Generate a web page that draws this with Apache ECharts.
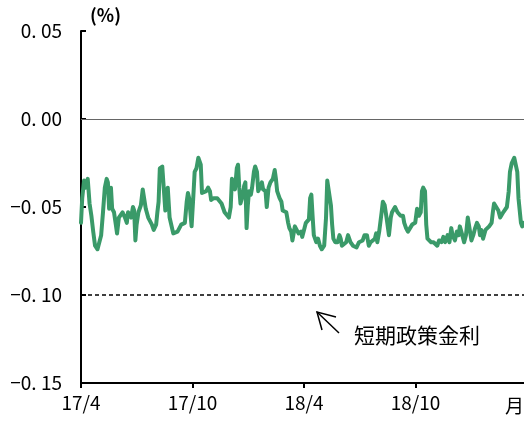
<!DOCTYPE html>
<html>
<head>
<meta charset="utf-8">
<script src="https://cdn.jsdelivr.net/npm/echarts@6/dist/echarts.min.js"></script>
<style>
  html, body { margin: 0; padding: 0; background: #fff; }
  #chart { width: 524px; height: 421px; }
</style>
</head>
<body>
<div id="chart"></div>
<script>
// Overnight call rate (%), sampled by days elapsed since 2017-04-01
const startDate = '2017-04-01';
const lastDay = 725;            // axis end, days after startDate
const halfYear = 182.5;         // tick spacing in days

const daysFromStart = [
  0, 2, 5, 8, 11, 14, 17, 20, 23, 27, 30, 33, 36, 39, 42, 44, 46, 49, 51, 54,
  57, 59, 62, 65, 68, 72, 75, 77, 80, 82, 85, 87, 89, 91, 94, 98, 101, 103, 106, 110,
  113, 116, 119, 123, 125, 127, 129, 133, 136, 138, 140, 142, 145, 148, 151, 154, 158, 161, 164, 167,
  170, 173, 175, 177, 181, 184, 186, 189, 192, 194, 196, 198, 201, 205, 208, 211, 213, 217, 220, 223,
  226, 230, 233, 235, 238, 242, 245, 247, 249, 252, 255, 257, 259, 261, 265, 267, 269, 271, 273, 275,
  278, 280, 283, 285, 288, 290, 292, 294, 296, 298, 302, 304, 307, 310, 314, 317, 319, 321, 325, 328,
  330, 333, 336, 339, 341, 344, 346, 350, 353, 356, 360, 362, 365, 368, 373, 375, 377, 379, 381, 385,
  388, 391, 394, 398, 401, 403, 406, 409, 411, 413, 416, 420, 423, 425, 427, 430, 434, 437, 439, 441,
  445, 448, 451, 455, 458, 461, 464, 468, 471, 474, 477, 481, 483, 485, 488, 492, 494, 497, 500, 504,
  507, 509, 512, 514, 518, 521, 523, 527, 529, 532, 535, 538, 542, 544, 547, 550, 553, 556, 558, 560,
  563, 565, 567, 570, 573, 577, 580, 583, 586, 590, 593, 596, 600, 603, 606, 608, 612, 615, 618, 620,
  624, 627, 630, 633, 636, 639, 642, 645, 648, 651, 653, 655, 658, 662, 665, 668, 672, 674, 676, 679,
  683, 686, 689, 691, 694, 697, 700, 702, 705, 709, 712, 714, 716, 720, 722, 724
];

const rates = [
  -0.059, -0.045, -0.035, -0.039, -0.034, -0.048, -0.055, -0.064, -0.072, -0.074, -0.073, -0.066, -0.053, -0.039, -0.034, -0.036, -0.051, -0.039, -0.051, -0.053,
  -0.060, -0.065, -0.056, -0.055, -0.053, -0.056, -0.059, -0.053, -0.052, -0.056, -0.050, -0.052, -0.069, -0.060, -0.053, -0.049, -0.040, -0.040, -0.051, -0.056,
  -0.056, -0.060, -0.063, -0.060, -0.053, -0.047, -0.028, -0.027, -0.026, -0.052, -0.053, -0.039, -0.056, -0.056, -0.065, -0.065, -0.064, -0.063, -0.060, -0.061,
  -0.059, -0.047, -0.042, -0.045, -0.061, -0.043, -0.030, -0.028, -0.022, -0.022, -0.026, -0.042, -0.042, -0.041, -0.039, -0.041, -0.046, -0.045, -0.044, -0.045,
  -0.046, -0.048, -0.051, -0.053, -0.053, -0.056, -0.050, -0.034, -0.034, -0.040, -0.028, -0.026, -0.039, -0.048, -0.043, -0.038, -0.036, -0.062, -0.049, -0.041,
  -0.043, -0.039, -0.030, -0.027, -0.030, -0.041, -0.042, -0.038, -0.036, -0.040, -0.041, -0.050, -0.039, -0.036, -0.034, -0.029, -0.034, -0.041, -0.045, -0.047,
  -0.052, -0.053, -0.053, -0.059, -0.062, -0.064, -0.069, -0.061, -0.062, -0.065, -0.064, -0.067, -0.063, -0.059, -0.057, -0.045, -0.043, -0.055, -0.066, -0.070,
  -0.068, -0.072, -0.074, -0.072, -0.056, -0.035, -0.034, -0.049, -0.060, -0.068, -0.070, -0.070, -0.066, -0.068, -0.072, -0.073, -0.070, -0.066, -0.065, -0.070,
  -0.072, -0.072, -0.073, -0.070, -0.070, -0.069, -0.066, -0.066, -0.072, -0.070, -0.070, -0.068, -0.065, -0.070, -0.064, -0.053, -0.047, -0.049, -0.056, -0.066,
  -0.056, -0.053, -0.052, -0.050, -0.053, -0.052, -0.055, -0.055, -0.059, -0.062, -0.064, -0.063, -0.060, -0.061, -0.059, -0.051, -0.055, -0.053, -0.041, -0.039,
  -0.041, -0.060, -0.068, -0.069, -0.070, -0.070, -0.070, -0.072, -0.069, -0.070, -0.067, -0.070, -0.066, -0.070, -0.062, -0.066, -0.069, -0.064, -0.066, -0.061,
  -0.066, -0.070, -0.066, -0.056, -0.056, -0.069, -0.066, -0.062, -0.059, -0.061, -0.066, -0.063, -0.068, -0.063, -0.062, -0.061, -0.059, -0.053, -0.048, -0.049,
  -0.052, -0.056, -0.057, -0.053, -0.052, -0.050, -0.041, -0.030, -0.025, -0.022, -0.022, -0.030, -0.045, -0.059, -0.061, -0.059
];

// Policy-rate reference level
const policyRate = -0.10;

// Axis ticks and their printed labels
const yTickValues = [-0.15, -0.10, -0.05, 0.00, 0.05];
const yTickLabels = ['−0. 15', '−0. 10', '−0. 05', '0. 00', '0. 05'];
const xTickLabels = ['17/4', '17/10', '18/4', '18/10'];

const seriesData = daysFromStart.map((d, i) => [d, rates[i]]);

const FONT = '"Noto Sans CJK JP", "Noto Sans", sans-serif';

const chart = echarts.init(document.getElementById('chart'), null, { renderer: 'canvas' });

chart.setOption({
  animation: false,
  backgroundColor: '#ffffff',
  grid: { left: 81, right: 0, top: 31, bottom: 38, containLabel: false },
  xAxis: {
    type: 'value',
    min: 0,
    max: lastDay,
    interval: halfYear,
    axisLine: { show: true, onZero: false, lineStyle: { color: '#000', width: 2 } },
    axisTick: { show: true, inside: false, length: 5, lineStyle: { color: '#000', width: 2 } },
    axisLabel: {
      color: '#000', fontSize: 19, fontFamily: FONT, margin: 10,
      showMaxLabel: false,
      formatter: function (v) {
        const k = Math.round(v / halfYear);
        if (Math.abs(k * halfYear - v) > 1e-6) return '';
        return xTickLabels[k] || '';
      }
    },
    splitLine: { show: false }
  },
  yAxis: {
    type: 'value',
    min: -0.15,
    max: 0.05,
    interval: 0.05,
    axisLine: { show: true, lineStyle: { color: '#000', width: 2 } },
    axisTick: { show: true, inside: true, length: 5, lineStyle: { color: '#000', width: 2 } },
    axisLabel: {
      color: '#000', fontSize: 19, fontFamily: FONT, margin: 19,
      formatter: function (v) {
        let best = 0;
        yTickValues.forEach((t, i) => { if (Math.abs(t - v) < Math.abs(yTickValues[best] - v)) best = i; });
        return yTickLabels[best];
      }
    },
    splitLine: { show: false }
  },
  series: [{
    type: 'line',
    data: seriesData,
    showSymbol: false,
    symbol: 'none',
    lineStyle: { color: '#3a9a69', width: 4, join: 'round', cap: 'round' },
    z: 3,
    markLine: {
      silent: true,
      symbol: 'none',
      label: { show: false },
      data: [
        { yAxis: 0, lineStyle: { color: '#666', width: 1, type: 'solid' } },
        { yAxis: policyRate, lineStyle: { color: '#000', width: 1.5, type: [4, 3] } }
      ]
    }
  }],
  graphic: [
    {
      type: 'text', left: 90, top: 6,
      style: { text: '(%)', fontSize: 18, fontFamily: FONT, fill: '#000', fontWeight: 'bold' }
    },
    {
      type: 'text', left: 505, top: 396,
      style: { text: '月', fontSize: 19, fontFamily: FONT, fill: '#000' }
    },
    {
      type: 'text', left: 354, top: 325,
      style: { text: '短期政策金利', fontSize: 21, fontFamily: FONT, fill: '#000' }
    },
    {
      type: 'polyline',
      shape: { points: [[339, 333], [317, 312]] },
      style: { stroke: '#000', lineWidth: 1.5, fill: null }
    },
    {
      type: 'polyline',
      shape: { points: [[322, 330], [317, 312], [336, 317]] },
      style: { stroke: '#000', lineWidth: 1.5, fill: null }
    }
  ]
});
</script>
</body>
</html>
